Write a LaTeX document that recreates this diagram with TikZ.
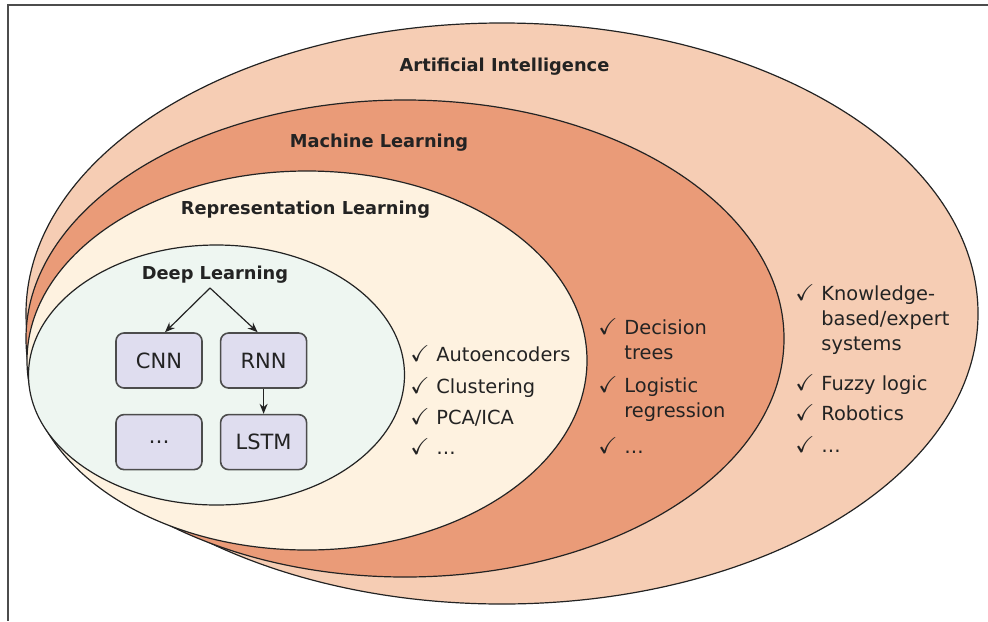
\documentclass[tikz,border=0pt]{standalone}
\usepackage{amssymb}
\usepackage{fontspec}
\setmainfont{DejaVu Sans}
\usetikzlibrary{arrows.meta, positioning}
\definecolor{aifill}{RGB}{246, 205, 180}
\definecolor{mlfill}{RGB}{234, 155, 120}
\definecolor{rlfill}{RGB}{254, 242, 224}
\definecolor{dlfill}{RGB}{238, 246, 241}
\definecolor{boxfill}{RGB}{223, 221, 239}
\definecolor{ink}{RGB}{35, 35, 35}
\newcommand{\chk}{\makebox[13pt][l]{\fontsize{11.5}{12.5}\selectfont$\checkmark$}}

\begin{document}
\begin{tikzpicture}[
    x=0.5pt, y=-0.5pt,
    node distance=12.5pt and 8.5pt,
    field/.style={draw=ink, line width=0.6pt},
    title/.style={font=\bfseries\fontsize{8.9}{11}\selectfont, text=ink},
    netbox/.style={draw=black!70, fill=boxfill, rounded corners=4pt, line width=0.8pt,
                   minimum width=43pt, minimum height=27.5pt, inner sep=0pt,
                   font=\fontsize{10.5}{12}\selectfont, text=ink},
    itemlist/.style={anchor=base west, inner sep=0pt, align=left,
                     font=\fontsize{9.7}{12.5}\selectfont, text=ink},
    arr/.style={-{Stealth[length=5pt, width=4pt]}, draw=ink, line width=0.6pt},
    frame/.style={draw=black!70, line width=1pt}
  ]
  \useasboundingbox (0,0) rectangle (988,621);

  % Frame
  \draw[frame] (988,5) -- (8,5) -- (8,621);

  % Nested fields
  \filldraw[field, fill=aifill] (502,313.5) ellipse [x radius=476, y radius=290.5];
  \filldraw[field, fill=mlfill] (405,338.5) ellipse [x radius=379, y radius=238.5];
  \filldraw[field, fill=rlfill] (307,360.5) ellipse [x radius=280, y radius=189.5];
  \filldraw[field, fill=dlfill] (216.5,375) ellipse [x radius=188, y radius=130];

  % Field titles
  \node[title] (ai) at (504.5,67)  {Artificial Intelligence};
  \node[title] (ml) at (379,143)   {Machine Learning};
  \node[title] (rl) at (305.5,210) {Representation Learning};
  \node[title] (dl) at (215,275)   {Deep Learning};

  % Networks
  \node[netbox] (cnn) at (159,360.5) {CNN};
  \node[netbox, right=of cnn] (rnn)  {RNN};
  \node[netbox, below=of cnn] (more) {\dots};
  \node[netbox, below=of rnn] (lstm) {LSTM};

  \coordinate (split) at (210,288);
  \draw[arr] (split) -- ([xshift=3pt]cnn.north);
  \draw[arr] (split) -- ([xshift=-3pt]rnn.north);
  \draw[arr] (rnn) -- (lstm);

  % Examples
  \node[itemlist] (rlitems) at (410,361) {\begin{tabular}[t]{@{}l@{}l@{}}
      \chk & Autoencoders\\[3.5pt]
      \chk & Clustering\\[3pt]
      \chk & PCA/ICA\\[2.5pt]
      \chk & \dots
    \end{tabular}};
  \node[itemlist] (mlitems) at (598,334) {\begin{tabular}[t]{@{}l@{}l@{}}
      \chk & Decision\\
           & trees\\[4pt]
      \chk & Logistic\\
           & regression\\[5.5pt]
      \chk & \dots
    \end{tabular}};
  \node[itemlist] (aiitems) at (795,300) {\begin{tabular}[t]{@{}l@{}l@{}}
      \chk & Knowledge-\\
           & based/expert\\
           & systems\\[7.5pt]
      \chk & Fuzzy logic\\[2.5pt]
      \chk & Robotics\\[3.5pt]
      \chk & \dots
    \end{tabular}};
\end{tikzpicture}
\end{document}
